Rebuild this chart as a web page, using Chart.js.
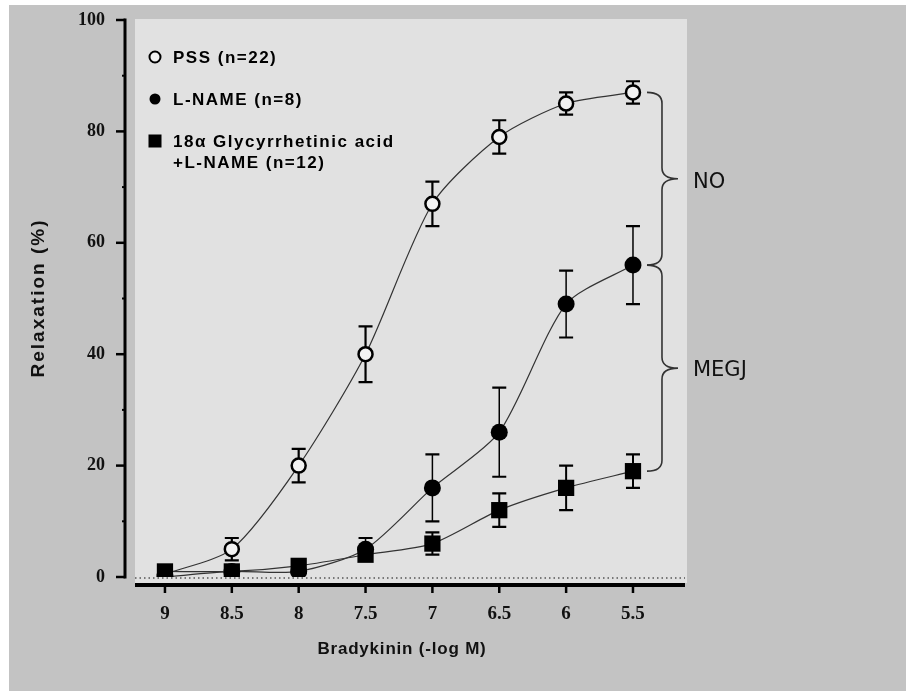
<!DOCTYPE html>
<html><head><meta charset="utf-8">
<script src="https://cdn.jsdelivr.net/npm/chart.js@4.4.1/dist/chart.umd.min.js"></script>
<style>html,body{margin:0;padding:0;background:#fff;} canvas{display:block;}</style>
</head><body>
<canvas id="c" width="906" height="691"></canvas>
<script>
// ---- data ----
const doses = [9, 8.5, 8, 7.5, 7, 6.5, 6, 5.5];
const xTickLabels = ['9', '8.5', '8', '7.5', '7', '6.5', '6', '5.5'];
const yTicks = [0, 20, 40, 60, 80, 100];
const pssMean = [0.5, 5, 20, 40, 67, 79, 85, 87];
const pssErr = [0, 2, 3, 5, 4, 3, 2, 2];
const lnameMean = [0, 1, 1, 5, 16, 26, 49, 56];
const lnameErr = [0, 0, 0, 2, 6, 8, 6, 7];
const glyMean = [1, 1, 2, 4, 6, 12, 16, 19];
const glyErr = [0, 0, 0, 0, 2, 3, 4, 3];
const seriesNames = ['PSS (n=22)', 'L-NAME (n=8)', '18α Glycyrrhetinic acid\n+L-NAME (n=12)'];
const braceLabels = ['NO', 'MEGJ'];
const xTitle = 'Bradykinin (-log M)';
const yTitle = 'Relaxation (%)';

const pts = (m) => doses.map((d, i) => ({x: d, y: m[i]}));

function drawMarker(ctx, kind, x, y, r) {
  ctx.save();
  ctx.lineWidth = 2;
  ctx.strokeStyle = '#000';
  if (kind === 'open') {
    ctx.fillStyle = '#f2f2f2';
    ctx.beginPath(); ctx.arc(x, y, r, 0, Math.PI * 2); ctx.fill(); ctx.stroke();
  } else if (kind === 'filled') {
    ctx.fillStyle = '#000';
    ctx.beginPath(); ctx.arc(x, y, r, 0, Math.PI * 2); ctx.fill();
  } else {
    ctx.fillStyle = '#000';
    ctx.fillRect(x - r, y - r, 2 * r, 2 * r);
  }
  ctx.restore();
}

function brace(ctx, x0, y1, y2) {
  const xv = x0 + 15, xt = x0 + 31, ym = (y1 + y2) / 2, r = 11;
  ctx.beginPath();
  ctx.moveTo(x0, y1);
  ctx.quadraticCurveTo(xv, y1, xv, y1 + r);
  ctx.lineTo(xv, ym - r);
  ctx.quadraticCurveTo(xv, ym, xt, ym);
  ctx.quadraticCurveTo(xv, ym, xv, ym + r);
  ctx.lineTo(xv, y2 - r);
  ctx.quadraticCurveTo(xv, y2, x0, y2);
  ctx.stroke();
}

const deco = {
  id: 'deco',
  beforeDraw(chart) {
    const ctx = chart.ctx, a = chart.chartArea;
    ctx.save();
    ctx.fillStyle = '#ffffff'; ctx.fillRect(0, 0, 906, 691);
    ctx.fillStyle = '#c3c3c3'; ctx.fillRect(9, 5, 897, 686);
    ctx.fillStyle = '#e1e1e1';
    ctx.fillRect(a.left, a.top - 1, a.right - a.left + 2, a.bottom - a.top + 7);
    ctx.restore();
  },
  beforeDatasetsDraw(chart) {
    const ctx = chart.ctx, a = chart.chartArea;
    const xs = chart.scales.x, ys = chart.scales.y;
    ctx.save();
    // dotted zero line
    ctx.strokeStyle = '#555';
    ctx.lineWidth = 1.5;
    ctx.setLineDash([1.5, 3]);
    const y0 = ys.getPixelForValue(0);
    ctx.beginPath(); ctx.moveTo(a.left, y0 + 1); ctx.lineTo(a.right, y0 + 1); ctx.stroke();
    ctx.setLineDash([]);
    // error bars
    chart.data.datasets.forEach((ds) => {
      ds.data.forEach((p, i) => {
        const e = ds.errors[i];
        if (!e) return;
        const x = xs.getPixelForValue(p.x);
        const yt = ys.getPixelForValue(p.y + e);
        const yb = ys.getPixelForValue(p.y - e);
        ctx.strokeStyle = '#000';
        ctx.lineWidth = ds.errWidth;
        ctx.beginPath(); ctx.moveTo(x, yt); ctx.lineTo(x, yb); ctx.stroke();
        ctx.lineWidth = 2.2;
        ctx.beginPath();
        ctx.moveTo(x - 7, yt); ctx.lineTo(x + 7, yt);
        ctx.moveTo(x - 7, yb); ctx.lineTo(x + 7, yb);
        ctx.stroke();
      });
    });
    ctx.restore();
  },
  afterDraw(chart) {
    const ctx = chart.ctx, a = chart.chartArea;
    const xs = chart.scales.x, ys = chart.scales.y;
    ctx.save();
    ctx.strokeStyle = '#000';
    ctx.fillStyle = '#000';
    // y axis
    const yAxX = a.left - 10;
    ctx.lineWidth = 3;
    ctx.beginPath();
    ctx.moveTo(yAxX, ys.getPixelForValue(100) - 1.5);
    ctx.lineTo(yAxX, ys.getPixelForValue(0) + 1.5);
    ctx.stroke();
    yTicks.forEach(v => {
      const y = ys.getPixelForValue(v);
      ctx.lineWidth = 2.5;
      ctx.beginPath(); ctx.moveTo(yAxX - 9, y); ctx.lineTo(yAxX, y); ctx.stroke();
    });
    for (let k = 0; k < yTicks.length - 1; k++) {
      const v = (yTicks[k] + yTicks[k + 1]) / 2;
      const y = ys.getPixelForValue(v);
      ctx.lineWidth = 2;
      ctx.beginPath(); ctx.moveTo(yAxX - 3, y); ctx.lineTo(yAxX, y); ctx.stroke();
    }
    // x axis
    const xAxY = a.bottom + 8;
    ctx.lineWidth = 4;
    ctx.beginPath(); ctx.moveTo(a.left, xAxY); ctx.lineTo(a.right, xAxY); ctx.stroke();
    doses.forEach(d => {
      const x = xs.getPixelForValue(d);
      ctx.lineWidth = 2.5;
      ctx.beginPath(); ctx.moveTo(x, xAxY); ctx.lineTo(x, xAxY + 8); ctx.stroke();
    });
    // braces
    const last = doses.length - 1;
    const bx = xs.getPixelForValue(doses[last]) + 14;
    const yP = ys.getPixelForValue(pssMean[last]);
    const yL = ys.getPixelForValue(lnameMean[last]);
    const yG = ys.getPixelForValue(glyMean[last]);
    ctx.strokeStyle = '#333';
    ctx.lineWidth = 1.6;
    brace(ctx, bx, yP, yL);
    brace(ctx, bx, yL, yG);
    ctx.fillStyle = '#111';
    ctx.font = '21px "DejaVu Sans"';
    ctx.textAlign = 'left';
    ctx.textBaseline = 'middle';
    ctx.fillText(braceLabels[0], bx + 46, (yP + yL) / 2 + 4);
    ctx.fillText(braceLabels[1], bx + 46, (yL + yG) / 2 + 2);
    // legend
    const kinds = ['open', 'filled', 'square'];
    const rowY = [58, 100, 142];
    ctx.font = 'bold 17px "Liberation Sans", Arial, sans-serif';
    ctx.letterSpacing = '1.5px';
    ctx.fillStyle = '#000';
    seriesNames.forEach((name, i) => {
      const y = rowY[i];
      drawMarker(ctx, kinds[i], a.left + 20, y - 1, kinds[i] === 'square' ? 6.5 : 5.5);
      name.split('\n').forEach((line, j) => {
        ctx.fillText(line, a.left + 38, y + j * 21);
      });
    });
    // axis titles
    ctx.fillStyle = '#111';
    ctx.textAlign = 'center';
    ctx.font = 'bold 17px "Liberation Sans", Arial, sans-serif';
    ctx.letterSpacing = '0.8px';
    ctx.fillText(xTitle, 402, 649);
    ctx.save();
    ctx.translate(39, 298);
    ctx.rotate(-Math.PI / 2);
    ctx.font = 'bold 19px "Liberation Sans", Arial, sans-serif';
    ctx.letterSpacing = '2px';
    ctx.fillText(yTitle, 0, 0);
    ctx.restore();
    ctx.restore();
  }
};

new Chart(document.getElementById('c'), {
  type: 'line',
  data: {
    datasets: [
      { label: seriesNames[0], data: pts(pssMean), errors: pssErr, errWidth: 2.2,
        borderColor: '#333', borderWidth: 1.2, tension: 0.25,
        pointStyle: 'circle', pointRadius: 7, pointBackgroundColor: '#f2f2f2',
        pointBorderColor: '#000', pointBorderWidth: 2.5, order: 3 },
      { label: seriesNames[1], data: pts(lnameMean), errors: lnameErr, errWidth: 1.5,
        borderColor: '#333', borderWidth: 1.2, tension: 0.25,
        pointStyle: 'circle', pointRadius: 8.5, pointBackgroundColor: '#000',
        pointBorderColor: '#000', pointBorderWidth: 0, order: 2 },
      { label: seriesNames[2], data: pts(glyMean), errors: glyErr, errWidth: 2,
        borderColor: '#333', borderWidth: 1.2, tension: 0.25,
        pointStyle: 'rect', pointRadius: 11.5, pointBackgroundColor: '#000',
        pointBorderColor: '#000', pointBorderWidth: 0, order: 1 }
    ]
  },
  options: {
    responsive: false,
    animation: false,
    devicePixelRatio: 1,
    layout: { padding: { left: 0, top: 20, right: 221, bottom: 0 } },
    plugins: { legend: { display: false }, tooltip: { enabled: false } },
    scales: {
      x: {
        type: 'linear', reverse: true, min: 5.111, max: 9.224,
        grid: { display: false, drawTicks: true, tickLength: 23 }, border: { display: false },
        afterBuildTicks: (s) => { s.ticks = doses.map(v => ({ value: v })); },
        afterFit: (s) => { s.height = 691 - 577; },
        ticks: {
          padding: 3, maxRotation: 0, autoSkip: false,
          color: '#111', font: { family: '"Liberation Serif", serif', weight: 'bold', size: 19 },
          callback: (v, i) => xTickLabels[i]
        }
      },
      y: {
        min: 0, max: 100,
        grid: { display: false, drawTicks: true, tickLength: 27 }, border: { display: false },
        afterBuildTicks: (s) => { s.ticks = yTicks.map(v => ({ value: v })); },
        afterFit: (s) => { s.width = 135; },
        ticks: {
          padding: 3, color: '#111',
          font: { family: '"Liberation Serif", serif', weight: 'bold', size: 18 }
        }
      }
    }
  },
  plugins: [deco]
});
</script>
</body></html>
